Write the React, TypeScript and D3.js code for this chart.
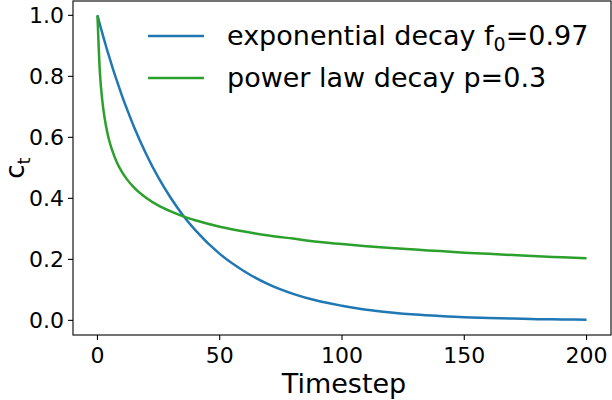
import React from 'react';
import * as d3 from 'd3';

// timesteps sampled from the reference curves
const timesteps: number[] = [
  0, 1, 2, 3, 4, 5, 6, 8, 10, 12, 15, 20, 25, 30, 35, 40, 50, 60, 70, 80, 90,
  100, 110, 120, 130, 140, 150, 160, 170, 180, 190, 200,
];

const expDecay: number[] = [
  1.0, 0.97, 0.941, 0.913, 0.885, 0.859, 0.833, 0.784, 0.737, 0.694, 0.633,
  0.544, 0.467, 0.401, 0.344, 0.296, 0.218, 0.161, 0.118, 0.087, 0.064, 0.048,
  0.035, 0.026, 0.019, 0.014, 0.01, 0.008, 0.006, 0.004, 0.003, 0.002,
];

const powerDecay: number[] = [
  1.0, 0.812, 0.719, 0.66, 0.617, 0.584, 0.558, 0.517, 0.487, 0.463, 0.435,
  0.401, 0.376, 0.357, 0.341, 0.328, 0.307, 0.291, 0.278, 0.268, 0.258, 0.25,
  0.243, 0.237, 0.232, 0.227, 0.222, 0.218, 0.214, 0.21, 0.207, 0.204,
];

const xTicks: number[] = [0, 50, 100, 150, 200];
const yTicks: number[] = [0.0, 0.2, 0.4, 0.6, 0.8, 1.0];

const FONT = 'DejaVu Sans';

const App = () => {
  const width = 612;
  const height = 400;
  const plot = { left: 73, right: 611, top: 1, bottom: 335 };

  const x = d3.scaleLinear().domain([-10, 210]).range([plot.left, plot.right]);
  const y = d3.scaleLinear().domain([-0.048, 1.047]).range([plot.bottom, plot.top]);

  const line = d3
    .line<number>()
    .x((_, i) => x(timesteps[i]))
    .y((d) => y(d))
    .curve(d3.curveMonotoneX);

  const series = [
    { label: 'exp', values: expDecay, color: '#1f77b4' },
    { label: 'pow', values: powerDecay, color: '#2ca02c' },
  ];

  return (
    <svg
      width={width}
      height={height}
      style={{ position: 'absolute', left: 0, top: 0 }}
      fontFamily={FONT}
    >
      <rect x={0} y={0} width={width} height={height} fill="white" />
      <defs>
        <clipPath id="plot-clip">
          <rect
            x={plot.left}
            y={plot.top}
            width={plot.right - plot.left}
            height={plot.bottom - plot.top}
          />
        </clipPath>
      </defs>
      <g clipPath="url(#plot-clip)">
        {series.map((s) => (
          <path
            key={s.label}
            d={line(s.values) ?? ''}
            fill="none"
            stroke={s.color}
            strokeWidth={2.5}
          />
        ))}
      </g>
      <rect
        x={plot.left}
        y={plot.top}
        width={plot.right - plot.left}
        height={plot.bottom - plot.top}
        fill="none"
        stroke="#000"
        strokeWidth={1.1}
      />
      {xTicks.map((t) => (
        <g key={t} transform={`translate(${x(t)},${plot.bottom})`}>
          <line y2={5} stroke="#000" strokeWidth={1.1} />
          <text y={28} textAnchor="middle" fontSize={22} fill="#000">
            {t}
          </text>
        </g>
      ))}
      {yTicks.map((t) => (
        <g key={t} transform={`translate(${plot.left},${y(t)})`}>
          <line x2={-5} stroke="#000" strokeWidth={1.1} />
          <text x={-9} dy="0.36em" textAnchor="end" fontSize={22} fill="#000">
            {t.toFixed(1)}
          </text>
        </g>
      ))}
      <text x={344} y={393} textAnchor="middle" fontSize={27} fill="#000">
        Timestep
      </text>
      <text
        transform="translate(24,168) rotate(-90)"
        textAnchor="middle"
        fontSize={26}
        fill="#000"
      >
        c<tspan fontSize={18} dy={6}>t</tspan>
      </text>
      <g fontSize={27} fill="#000">
        <line x1={148} x2={204} y1={36} y2={36} stroke="#1f77b4" strokeWidth={2.5} />
        <text x={227} y={45}>
          exponential decay f<tspan fontSize={19} dy={6}>0</tspan>
          <tspan dy={-6}>=0.97</tspan>
        </text>
        <line x1={148} x2={204} y1={78} y2={78} stroke="#2ca02c" strokeWidth={2.5} />
        <text x={227} y={87}>power law decay p=0.3</text>
      </g>
    </svg>
  );
};

export default App;
